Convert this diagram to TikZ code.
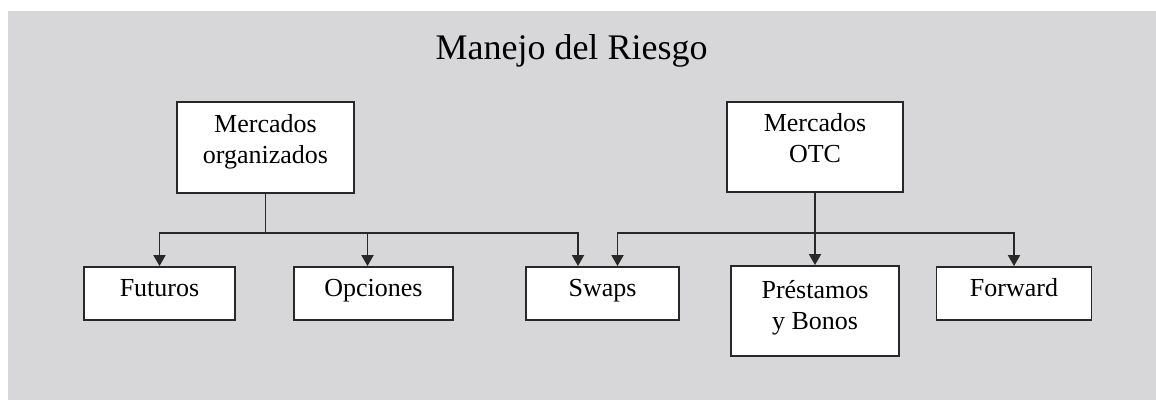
\documentclass[tikz,border=0pt]{standalone}
\usepackage{fontspec}
\setmainfont{Liberation Serif}
\usetikzlibrary{arrows.meta}
\definecolor{bggray}{RGB}{215,215,217}
\definecolor{linegray}{RGB}{40,40,40}
\tikzset{
  box/.style={draw=linegray, line width=1.8pt, fill=white, inner sep=0pt,
    align=center, font=\fontsize{26}{31}\selectfont},
  onebox/.style={box, text height=18pt, text depth=13pt, minimum height=53pt},
  twobox/.style={box, text height=49pt},
  conn/.style={draw=linegray, line width=1.8pt},
  arr/.style={conn, -{Triangle[width=12pt,length=11pt]}}
}
\begin{document}
\begin{tikzpicture}[x=1pt,y=-1pt]
\useasboundingbox (0,0) rectangle (1156,400);
\fill[white] (0,0) rectangle (1156,400);
\fill[bggray] (8,11) rectangle (1156,400);

\node[anchor=base, font=\fontsize{36}{40}\selectfont] (title) at (571.5,59) {Manejo del Riesgo};

\node[twobox, text depth=18pt, minimum width=177pt, minimum height=91pt] (mo) at (265.5,147.5) {Mercados\\organizados};
\node[twobox, text depth=18pt, minimum width=176pt, minimum height=90pt] (otc) at (815,147) {Mercados\\OTC};

\node[onebox, minimum width=151pt] (fut) at (159.5,293.5) {Futuros};
\node[onebox, minimum width=159pt] (opc) at (373.5,293.5) {Opciones};
\node[onebox, minimum width=153pt] (swp) at (602.5,293.5) {Swaps};
\node[twobox, text depth=13pt, minimum width=168pt, minimum height=90pt] (pre) at (815,311) {Préstamos\\y Bonos};
\node[onebox, minimum width=155pt] (fwd) at (1014,293.5) {Forward};

\draw[conn] (mo.south) -- (mo.south |- 0,233) coordinate (mj);
\draw[arr] (mj) -| (fut.north);
\draw[arr] (mj) -| ([xshift=-6pt]opc.north);
\draw[arr] (mj) -| ([xshift=-24.5pt]swp.north);

\coordinate (oj) at (otc.south |- 0,233);
\draw[arr] (otc.south) -- (pre.north);
\draw[arr] (oj) -| ([xshift=15pt]swp.north);
\draw[arr] (oj) -| (fwd.north);
\end{tikzpicture}
\end{document}
